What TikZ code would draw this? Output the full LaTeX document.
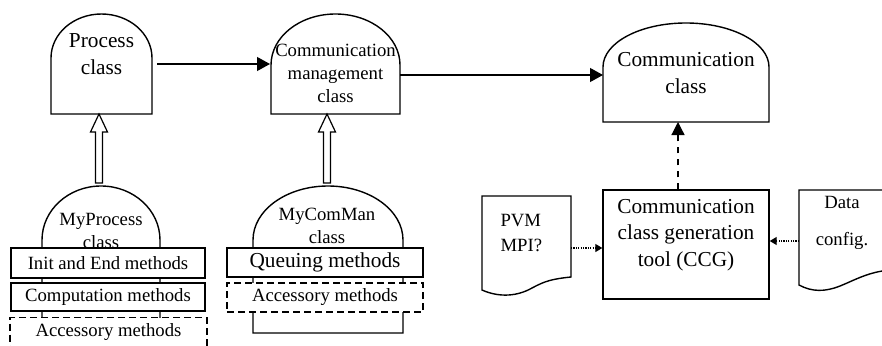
\documentclass[tikz,border=0pt]{standalone}
\usepackage{fontspec}
\setmainfont{Liberation Serif}
\usetikzlibrary{arrows.meta,calc}

\newcommand{\bigfont}{\fontsize{21.3}{26.5}\selectfont}
\newcommand{\smallfont}{\fontsize{18.7}{23}\selectfont}

% dome outline drawn round a shell node
\newcommand{\domeline}[2]{%
  \draw[line width=1.4pt, fill=white] let \p1=(#1.south west), \p2=(#1.north east) in
    (\p1) -- (\x1,\y2-#2) arc[start angle=180, end angle=0, x radius={(\x2-\x1)/2}, y radius=#2]
    -- (\x2,\y1) -- cycle;}

% hollow inheritance arrow
\newcommand{\inheritarrow}[2]{%
  \draw[line width=1.2pt, fill=white] let \p1=(#1), \p2=(#2) in
    (\x1-3.5pt,\y1) -- (\x1-3.5pt,\y2-18pt) -- (\x1-8.5pt,\y2-18pt) -- (\x1,\y2)
    -- (\x1+8.5pt,\y2-18pt) -- (\x1+3.5pt,\y2-18pt) -- (\x1+3.5pt,\y1) -- cycle;}

\begin{document}
\begin{tikzpicture}[x=1pt, y=-1pt,
    shell/.style={inner sep=0pt, outer sep=0pt},
    method/.style={draw, line width=1.4pt, fill=white, inner sep=0pt, font=\smallfont},
    optional/.style={method, dash pattern=on 7pt off 4pt},
    flow/.style={line width=1.2pt, -{Triangle[length=13pt,width=14pt]}},
    dep/.style={line width=1.2pt, dash pattern=on 6pt off 6pt, -{Triangle[length=13pt,width=13pt]}},
    feed/.style={line width=1.2pt, dash pattern=on 1.2pt off 1.2pt, -{Triangle[length=7pt,width=8pt]}}]
  \useasboundingbox (0,0) rectangle (882,345);

  % user classes
  \node[shell, minimum width=118pt, minimum height=154pt] (myproc) at (101,263) {};
  \domeline{myproc}{54pt}
  \node[font=\smallfont, align=center] (myproctext) at (101,231) {MyProcess\\class};
  \node[method, minimum width=194pt, minimum height=30pt] (initb) at (108,263) {Init and End methods};
  \node[method, minimum width=194pt, minimum height=28pt] (compb) at (108,297) {Computation methods};
  \node[optional, minimum width=197pt, minimum height=29pt] (accb) at (108.5,332) {Accessory methods};

  \node[shell, minimum width=150pt, minimum height=147pt] (mycom) at (328,259.5) {};
  \domeline{mycom}{54pt}
  \node[font=\smallfont, align=center] (mycomtext) at (327,226) {MyComMan\\class};
  \node[method, font=\bigfont, minimum width=196pt, minimum height=29pt] (queb) at (325,262.5) {Queuing methods};
  \node[optional, minimum width=196pt, minimum height=29pt] (acc2b) at (325,297.5) {Accessory methods};

  % base classes
  \node[shell, minimum width=101pt, minimum height=100pt] (proc) at (101.5,64) {};
  \domeline{proc}{44pt}
  \node[font=\bigfont, align=center] (proctext) at (101.5,54) {Process\\class};

  \node[shell, minimum width=129pt, minimum height=100pt] (mgmt) at (335.5,64) {};
  \domeline{mgmt}{51pt}
  \node[font=\smallfont, align=center] (mgmttext) at (335.5,73) {Communication\\management\\class};

  \node[shell, minimum width=166pt, minimum height=99pt] (comm) at (686,72.5) {};
  \domeline{comm}{44pt}
  \node[font=\bigfont, align=center] (commtext) at (686,73) {Communication\\class};

  % generator and its inputs
  \node[method, minimum width=166pt, minimum height=109pt] (ccg) at (686,244.5) {};
  \node[font=\bigfont, align=center] (ccgtext) at (686,235) {Communication\\class generation\\tool (CCG)};

  \node[shell, minimum width=89pt, minimum height=94pt] (pvm) at (526.5,243) {};
  \draw[line width=1.4pt] (pvm.north west) -- (pvm.north east) -- (571,277)
    .. controls (552,279) and (545,281) .. (532,288)
    .. controls (518,296) and (500,298) .. (pvm.south west) -- cycle;
  \node[font=\smallfont, align=left, anchor=west] (pvmtext) at (497,233) {PVM\\[2pt]MPI?};

  \node[shell, minimum width=91pt, minimum height=95pt] (data) at (844.5,237.5) {};
  \draw[line width=1.4pt] (data.north east) -- (data.north west) -- (data.south west)
    .. controls (812,292) and (825,292) .. (840,286)
    .. controls (855,280) and (868,272) .. (890,270);
  \node[font=\smallfont, align=center] (datatext) at (842,223) {Data\\[14pt]config.};

  % connectors
  \draw[flow] ([xshift=5pt]proc.east) -- ([xshift=-1pt]mgmt.west);
  \draw[flow] ([yshift=-11pt]mgmt.east) -- ([yshift=-11pt]mgmt.east -| comm.west);
  \draw[dep] ([xshift=-8pt]ccg.north) -- ([xshift=-8pt]comm.south);
  \draw[feed] ([yshift=-5pt]pvm.east) -- ([yshift=-5pt]pvm.east -| ccg.west);
  \draw[feed] ([yshift=-3.5pt]data.west) -- ([yshift=-3.5pt]data.west -| ccg.east);
  \inheritarrow{[xshift=-2pt,yshift=3pt]myproc.north}{proc.south}
  \inheritarrow{[xshift=-1pt,yshift=3pt]mycom.north}{mgmt.south}
\end{tikzpicture}
\end{document}
